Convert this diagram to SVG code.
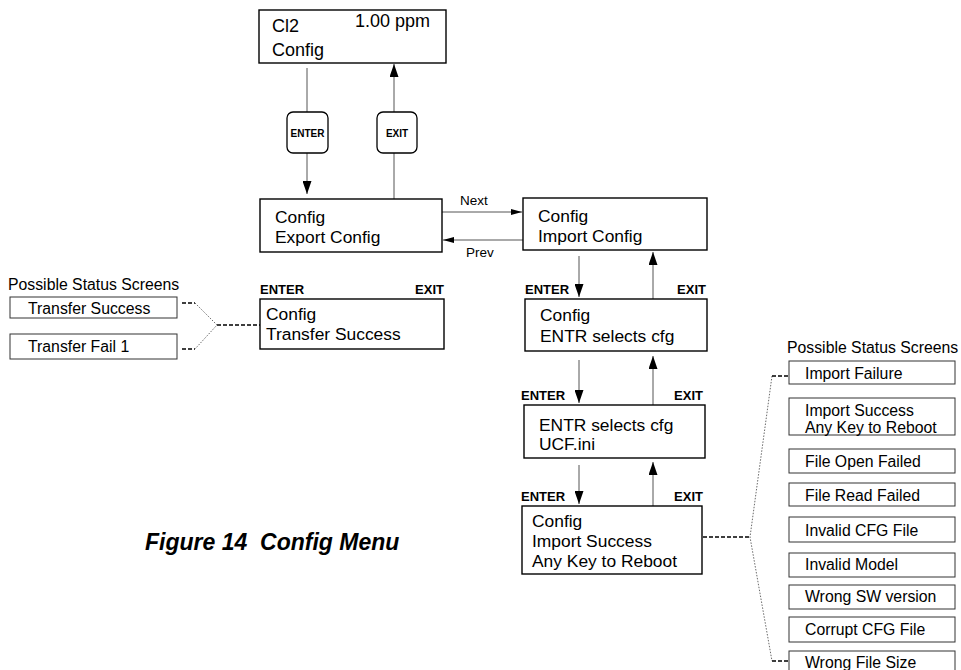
<svg xmlns="http://www.w3.org/2000/svg" width="961" height="670" viewBox="0 0 961 670">
<defs>
<style>
.box{fill:#fff;stroke:#000;stroke-width:1.4}
.sbox{fill:#fff;stroke:#333;stroke-width:1}
.key{fill:#fff;stroke:#000;stroke-width:1.3}
.t{font-family:"Liberation Sans",Arial,sans-serif;font-size:17.4px;fill:#000}
.tt{font-family:"Liberation Sans",Arial,sans-serif;font-size:18px;fill:#000}
.s{font-family:"Liberation Sans",Arial,sans-serif;font-size:15.8px;fill:#000}
.lbl{font-family:"Liberation Sans",Arial,sans-serif;font-size:13px;font-weight:bold;fill:#000}
.k{font-family:"Liberation Sans",Arial,sans-serif;font-size:10px;font-weight:bold;fill:#000;text-anchor:middle}
.np{font-family:"Liberation Sans",Arial,sans-serif;font-size:13.5px;fill:#000}
.cap{font-family:"Liberation Sans",Arial,sans-serif;font-size:23px;font-weight:bold;font-style:italic;fill:#000;white-space:pre}
.ln{stroke:#555;stroke-width:1;fill:none}
.dash{stroke:#000;stroke-width:1.5;stroke-dasharray:4,2;fill:none}
.dot{stroke:#444;stroke-width:0.8;stroke-dasharray:1.5,1.5;fill:none}
</style>
<marker id="ah" markerUnits="userSpaceOnUse" markerWidth="13" markerHeight="9" refX="13" refY="4.5" orient="auto" viewBox="0 0 13 9">
<path d="M0,0 L13,4.5 L0,9 Z" fill="#000"/>
</marker>
<marker id="ahs" markerUnits="userSpaceOnUse" markerWidth="11" markerHeight="7" refX="11" refY="3.5" orient="auto" viewBox="0 0 11 7">
<path d="M0,0.5 L11,3.5 L0,6.5 Z" fill="#000"/>
</marker>
</defs>

<g id="connectors">
<line class="ln" x1="307" y1="68" x2="307" y2="112"/>
<line class="ln" x1="307" y1="153" x2="307" y2="194" marker-end="url(#ah)"/>
<line class="ln" x1="394" y1="199" x2="394" y2="153"/>
<line class="ln" x1="394" y1="112" x2="394" y2="64" marker-end="url(#ah)"/>
<line class="ln" x1="442" y1="212" x2="522" y2="212" marker-end="url(#ahs)"/>
<line class="ln" x1="523" y1="240" x2="443" y2="240" marker-end="url(#ahs)"/>
<line class="ln" x1="579" y1="256" x2="579" y2="297" marker-end="url(#ah)"/>
<line class="ln" x1="653" y1="299" x2="653" y2="252" marker-end="url(#ah)"/>
<line class="ln" x1="579" y1="360" x2="579" y2="403" marker-end="url(#ah)"/>
<line class="ln" x1="653" y1="405" x2="653" y2="356" marker-end="url(#ah)"/>
<line class="ln" x1="579" y1="465" x2="579" y2="504" marker-end="url(#ah)"/>
<line class="ln" x1="653" y1="506" x2="653" y2="462" marker-end="url(#ah)"/>
<line class="dash" x1="182" y1="303" x2="195" y2="303"/>
<line class="dash" x1="182" y1="349" x2="195" y2="349"/>
<polyline class="dot" points="195,303 217,325 195,349"/>
<line class="dash" x1="217" y1="325" x2="260" y2="325"/>
<line class="dash" x1="703" y1="537" x2="750" y2="537"/>
<polyline class="dot" points="772,376 750,537 772,661"/>
<line class="dash" x1="772" y1="376" x2="789" y2="376"/>
<line class="dash" x1="772" y1="661" x2="789" y2="661"/>
</g>

<g id="key-enter">
<rect class="key" x="287" y="112" width="41" height="41" rx="6"/>
<text class="k" x="307.5" y="136.5">ENTER</text>
</g>
<g id="key-exit">
<rect class="key" x="377" y="112" width="40" height="41" rx="6"/>
<text class="k" x="397" y="136.5">EXIT</text>
</g>

<g id="labels">
<text class="np" x="460" y="205">Next</text>
<text class="np" x="466" y="257">Prev</text>
<text class="lbl" x="260" y="294">ENTER</text>
<text class="lbl" x="444" y="294" text-anchor="end">EXIT</text>
<text class="lbl" x="525" y="294">ENTER</text>
<text class="lbl" x="706" y="294" text-anchor="end">EXIT</text>
<text class="lbl" x="521" y="400">ENTER</text>
<text class="lbl" x="703" y="400" text-anchor="end">EXIT</text>
<text class="lbl" x="521" y="501">ENTER</text>
<text class="lbl" x="703" y="501" text-anchor="end">EXIT</text>
</g>

<g id="node-main">
<rect class="box" x="259" y="10" width="187" height="53"/>
<text class="tt" x="272" y="32">Cl2</text>
<text class="tt" x="355" y="27">1.00 ppm</text>
<text class="tt" x="272" y="56">Config</text>
</g>

<g id="node-export">
<rect class="box" x="260" y="199" width="182" height="53"/>
<text class="t" x="275" y="223">Config</text>
<text class="t" x="275" y="243">Export Config</text>
</g>

<g id="node-import">
<rect class="box" x="523" y="198" width="184" height="52"/>
<text class="t" x="538" y="222">Config</text>
<text class="t" x="538" y="242">Import Config</text>
</g>

<g id="node-transfer">
<rect class="box" x="260" y="299" width="184" height="50"/>
<text class="t" x="266" y="320">Config</text>
<text class="t" x="266" y="340">Transfer Success</text>
</g>

<g id="node-select">
<rect class="box" x="525" y="299" width="182" height="52"/>
<text class="t" x="540" y="321">Config</text>
<text class="t" x="540" y="342">ENTR selects cfg</text>
</g>

<g id="node-ucf">
<rect class="box" x="524" y="405" width="181" height="53"/>
<text class="t" x="539" y="431">ENTR selects cfg</text>
<text class="t" x="539" y="450">UCF.ini</text>
</g>

<g id="node-success">
<rect class="box" x="522" y="506" width="180" height="68"/>
<text class="t" x="532" y="527">Config</text>
<text class="t" x="532" y="547">Import Success</text>
<text class="t" x="532" y="567">Any Key to Reboot</text>
</g>

<g id="left-status">
<text class="s" x="8" y="290">Possible Status Screens</text>
<g id="ls-1"><rect class="sbox" x="10" y="297" width="167" height="21"/><text class="s" x="28" y="314">Transfer Success</text></g>
<g id="ls-2"><rect class="sbox" x="10" y="334" width="167" height="25"/><text class="s" x="28" y="352">Transfer Fail 1</text></g>
</g>

<g id="right-status">
<text class="s" x="787" y="353">Possible Status Screens</text>
<g id="rs-1"><rect class="sbox" x="789" y="361" width="166" height="23"/><text class="s" x="805" y="379">Import Failure</text></g>
<g id="rs-2"><rect class="sbox" x="789" y="398" width="166" height="37"/><text class="s" x="805" y="416">Import Success</text><text class="s" x="805" y="433">Any Key to Reboot</text></g>
<g id="rs-3"><rect class="sbox" x="789" y="449" width="166" height="24"/><text class="s" x="805" y="467">File Open Failed</text></g>
<g id="rs-4"><rect class="sbox" x="789" y="483" width="166" height="23"/><text class="s" x="805" y="501">File Read Failed</text></g>
<g id="rs-5"><rect class="sbox" x="789" y="517" width="166" height="25"/><text class="s" x="805" y="536">Invalid CFG File</text></g>
<g id="rs-6"><rect class="sbox" x="789" y="553" width="166" height="24"/><text class="s" x="805" y="570">Invalid Model</text></g>
<g id="rs-7"><rect class="sbox" x="789" y="585" width="166" height="24"/><text class="s" x="805" y="602">Wrong SW version</text></g>
<g id="rs-8"><rect class="sbox" x="789" y="617" width="166" height="25"/><text class="s" x="805" y="635">Corrupt CFG File</text></g>
<g id="rs-9"><rect class="sbox" x="789" y="651" width="166" height="25"/><text class="s" x="805" y="668">Wrong File Size</text></g>
</g>

<text class="cap" x="145" y="550">Figure 14  Config Menu</text>
</svg>
